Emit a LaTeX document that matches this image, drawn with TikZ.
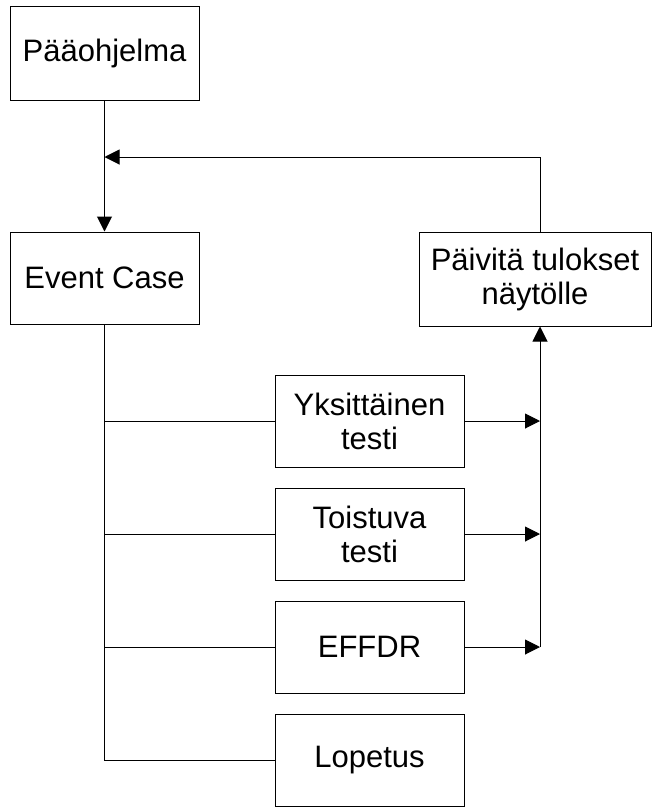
\documentclass[tikz,border=0pt]{standalone}
\usepackage{fontspec}
\setmainfont{Liberation Sans}
\usetikzlibrary{arrows.meta}
\tikzset{
  lohko/.style={draw, line width=1pt, minimum width=189pt, minimum height=92pt,
    align=center, inner sep=0pt, font=\fontsize{31}{34}\selectfont},
  nuoli/.style={-{Triangle[length=15pt,width=15pt]}, line width=1pt},
  viiva/.style={line width=1pt}
}
\begin{document}
\begin{tikzpicture}[x=1pt,y=-1pt]
\useasboundingbox (0,0) rectangle (652,807);
% Paaohjelma ja tapahtumat
\node[lohko, minimum height=94pt] (paa) at (104.5,53) {Pääohjelma};
\node[lohko] (event) at (104.5,278) {Event Case};
\node[lohko, minimum width=232pt, minimum height=94pt] (paivita) at (535,279) {Päivitä tulokset\\näytölle};
% Valinnat
\node[lohko] (yks) at (369.5,421) {Yksittäinen\\testi};
\node[lohko] (toi) at (369.5,534) {Toistuva\\testi};
\node[lohko] (eff) at (369.5,647) {EFFDR};
\node[lohko] (lop) at (369.5,760) {Lopetus};
\coordinate (ylos) at (540,157);
\coordinate (kulma) at (104.5,157);
\coordinate (kokoaja) at (540,647);
\draw[nuoli] (paa) -- (event);
\draw[nuoli] (paivita.north -| ylos) -- (ylos) -- (kulma);
\draw[viiva] (event.south) |- (lop.west);
\foreach \b in {yks,toi,eff} {
    \draw[viiva] (event.south |- \b.west) -- (\b.west);
    \draw[nuoli] (\b.east) -- (\b.east -| kokoaja);
}
\draw[nuoli] (kokoaja) -- (paivita.south -| kokoaja);
\end{tikzpicture}
\end{document}
